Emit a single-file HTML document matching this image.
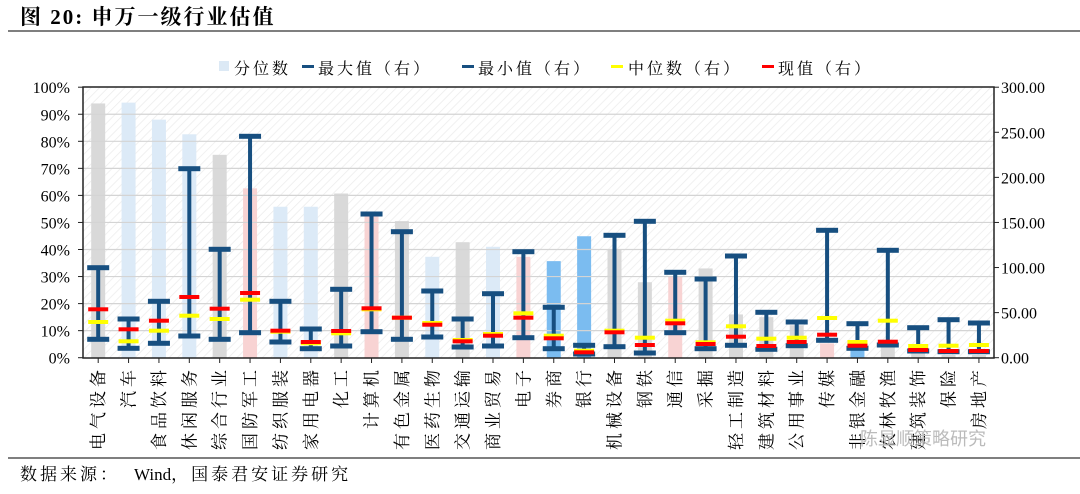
<!DOCTYPE html>
<html><head><meta charset="utf-8">
<style>
body{margin:0;background:#fff;}
svg{display:block;font-family:"Liberation Serif","Noto Serif CJK SC",serif;}
</style></head>
<body>
<svg id="s" width="1080" height="494" xmlns="http://www.w3.org/2000/svg">
<defs>
<pattern id="h" width="6" height="6" patternUnits="userSpaceOnUse" patternTransform="rotate(45)">
<rect width="6" height="6" fill="#fff"/><line x1="0" y1="0" x2="0" y2="6" stroke="#ececec" stroke-width="1.5"/>
</pattern>
</defs>
<text x="20" y="24" font-size="21" font-weight="bold" fill="#000" letter-spacing="2">图 20:  申万一级行业估值</text>
<line x1="8" y1="31" x2="1080" y2="31" stroke="#333" stroke-width="1.2"/>
<line x1="8" y1="458" x2="1080" y2="458" stroke="#333" stroke-width="1.2"/>
<text x="20" y="480" font-size="17" fill="#000"><tspan letter-spacing="3">数据来源：</tspan><tspan dx="14">Wind</tspan><tspan letter-spacing="3">，国泰君安证券研究</tspan></text>
<rect x="83" y="87" width="911" height="271" fill="url(#h)"/>
<g id="g"></g>
<rect x="83" y="87" width="911" height="271" fill="none" stroke="#222" stroke-width="1.5"/>
<g font-size="16" fill="#000" letter-spacing="3">
<rect x="219" y="61" width="10" height="10" fill="#dce9f5"/><text x="234" y="74">分位数</text>
<rect x="302" y="65" width="12" height="3" fill="#174f80"/><text x="318" y="74">最大值（右）</text>
<rect x="462" y="65" width="12" height="3" fill="#174f80"/><text x="478" y="74">最小值（右）</text>
<rect x="611" y="65" width="12" height="3" fill="#ffff00"/><text x="628" y="74">中位数（右）</text>
<rect x="762" y="65" width="12" height="3" fill="#ff0000"/><text x="778" y="74">现值（右）</text>
</g>
<text x="860" y="445" font-size="18" fill="#bbb" font-family="Liberation Sans,Noto Sans CJK SC,sans-serif">陈显顺策略研究</text>
</svg>
<script>
var names=["电气设备","汽车","食品饮料","休闲服务","综合行业","国防军工","纺织服装","家用电器","化工","计算机","有色金属","医药生物","交通运输","商业贸易","电子","券商","银行","机械设备","钢铁","通信","采掘","轻工制造","建筑材料","公用事业","传媒","非银金融","农林牧渔","建筑装饰","保险","房地产"];
var pct=[94,94.3,88,82.6,75,62.6,55.8,55.8,60.7,52.3,50.5,37.3,42.7,41,37.3,35.7,44.9,40,27.9,30.2,33,16,15,12,5.3,3.5,4,2,1,1];
var col="g b b b g p b b g p g b g b p m m g g p g g g g p m g g g g".split(" ");
var cm={g:"#d9d9d9",b:"#dceaf7",p:"#f8d3d3",m:"#7bbcf0"};
var mx=[267.7,319,301.3,168.7,249.3,136.3,301.3,329,289.3,214,231.7,291,319,293.7,251.7,307.3,345.3,235.3,221.3,272.3,279,256,312.3,322,230.3,323.7,250.3,327.7,319.7,323];
var mn=[339.3,348.3,343.3,336,339.3,332.7,342,348.7,346,331.7,339.3,337,347,346,337.7,348.7,354,346.7,353,332.7,348.7,345.3,349.3,345.7,340.3,348.3,345,351,351.7,351.7];
var rd=[309.3,329.3,320.7,297,308.7,293,330.7,342,331,308.3,317.7,324.7,341.3,335.7,317.7,338.3,352.3,332.3,345,323.3,344,336.7,346,342,334.7,345.7,341.7,350,351,351];
var yl=[322,341.3,330.7,315.7,319,299.7,331.7,343.3,333.3,309.3,317.7,323,340,334,313.3,335.7,350.7,330.7,337.7,320.7,342.3,326.3,338.7,337.7,318,342,320.7,346,345.7,345];
var s="";var Y0=357.7,K=2.705;
for(var i=0;i<30;i++){var cx=98.2+30.37*i;var t=Y0-pct[i]*K;
s+='<rect x="'+(cx-7)+'" y="'+t+'" width="14" height="'+(Y0-t)+'" fill="'+cm[col[i]]+'"/>';}
for(var v=1;v<=9;v++){var y=Y0-v*10*K;s+='<line x1="83" x2="994" y1="'+y+'" y2="'+y+'" stroke="#d4d4d4" stroke-width="1.2"/>';}
for(var i=0;i<30;i++){var cx=98.2+30.37*i;
s+='<rect x="'+(cx-2)+'" y="'+mx[i]+'" width="4" height="'+(mn[i]-mx[i])+'" fill="#174f80"/>';
s+='<rect x="'+(cx-11)+'" y="'+(mx[i]-2.5)+'" width="22" height="5" fill="#174f80"/>';
s+='<rect x="'+(cx-11)+'" y="'+(mn[i]-2.5)+'" width="22" height="5" fill="#174f80"/>';
s+='<rect x="'+(cx-10)+'" y="'+(yl[i]-2)+'" width="20" height="4" fill="#ffff00"/>';
s+='<rect x="'+(cx-10)+'" y="'+(rd[i]-2)+'" width="20" height="4" fill="#ff0000"/>';
s+='<line x1="'+cx+'" x2="'+cx+'" y1="358" y2="363" stroke="#222"/>';
s+='<text transform="translate('+(cx+6)+',366) rotate(-90)" text-anchor="end" font-size="17" letter-spacing="4" fill="#000">'+names[i]+'</text>';}
for(var v=0;v<=10;v++){var y=Y0-v*10*K;s+='<text x="70" y="'+(y+6)+'" text-anchor="end" font-size="16">'+(v*10)+'%</text>';s+='<line x1="78" x2="83" y1="'+y+'" y2="'+y+'" stroke="#222"/>';}
for(var v=0;v<=6;v++){var y=Y0-v*50*K*100/300;s+='<text x="1001" y="'+(y+6)+'" font-size="16">'+(v*50)+'.00</text>';s+='<line x1="994" x2="999" y1="'+y+'" y2="'+y+'" stroke="#222"/>';}
document.getElementById("g").innerHTML=s;
</script>
</body></html>
